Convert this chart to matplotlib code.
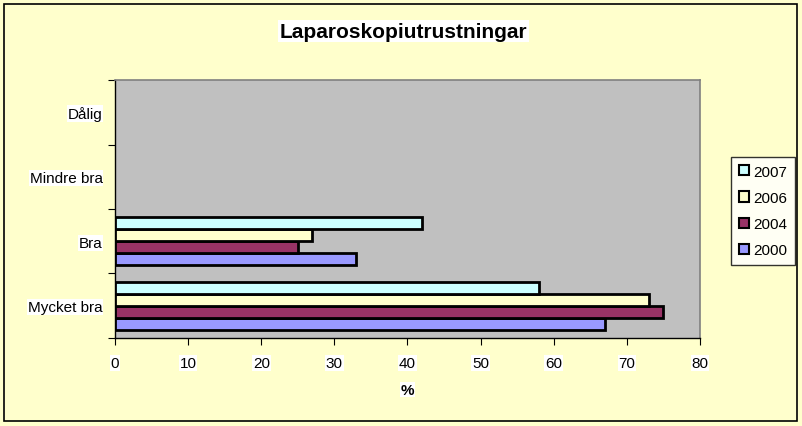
import numpy as np
import matplotlib.pyplot as plt
from matplotlib.patches import Patch, Rectangle

# data
categories = ["Mycket bra", "Bra", "Mindre bra", "Dålig"]
years = ["2000", "2004", "2006", "2007"]
v2000 = [67, 33, 0, 0]
v2004 = [75, 25, 0, 0]
v2006 = [73, 27, 0, 0]
v2007 = [58, 42, 0, 0]
colors = ["#9999FF", "#993366", "#FFFFCC", "#CCFFFF"]

plt.rcParams["font.family"] = ["Liberation Sans", "DejaVu Sans"]

fig = plt.figure(figsize=(8.02, 4.27), dpi=100, facecolor="#FFFFCC")
ax = fig.add_axes([0.1434, 0.2061, 0.7294, 0.6042])
ax.set_facecolor("#C0C0C0")

y = np.arange(len(categories))
h = 0.185
series = [v2000, v2004, v2006, v2007]
for i, (vals, col) in enumerate(zip(series, colors)):
    vals = np.array(vals)
    lw = np.where(vals > 0, 2.0, 0.0)  # Excel shows nothing for zero bars
    ax.barh(y + (i - 1.5) * h, vals, height=h, color=col,
            edgecolor="black", linewidth=lw, zorder=3)

ax.set_xlim(0, 80)
ax.set_ylim(-0.5, 3.5)
ax.set_xticks(np.arange(0, 81, 10))
ax.set_yticks(np.arange(-0.5, 3.6, 1))
ax.set_yticklabels([])
ax.set_yticks(y, minor=True)
ax.set_yticklabels(categories, minor=True)
ax.tick_params(axis="y", which="minor", length=0, pad=9, labelsize=11)
ax.tick_params(axis="y", which="major", length=5, direction="out", color="black")
ax.tick_params(axis="x", length=5, direction="out", labelsize=11, pad=8)

# Excel draws label text on white boxes
for lab in ax.get_xticklabels() + ax.get_yticklabels(minor=True):
    lab.set_bbox(dict(facecolor="white", edgecolor="none", pad=0.5))

for s in ["top", "right"]:
    ax.spines[s].set_color("#808080")
    ax.spines[s].set_linewidth(1.2)
for s in ["left", "bottom"]:
    ax.spines[s].set_color("black")
    ax.spines[s].set_linewidth(1.0)

ax.set_xlabel("%", fontsize=11, fontweight="bold", labelpad=9,
              bbox=dict(facecolor="white", edgecolor="none", pad=0.5))
fig.text(0.503, 0.925, "Laparoskopiutrustningar", ha="center", va="center",
         fontsize=15, fontweight="bold",
         bbox=dict(facecolor="white", edgecolor="none", pad=1))

handles = [Patch(facecolor=c, edgecolor="black", linewidth=1.5, label=yr)
           for c, yr in zip(colors, years)]
leg = fig.legend(handles[::-1], years[::-1], loc="upper left",
                 bbox_to_anchor=(731 / 802, 1 - 158 / 427), fontsize=11,
                 frameon=True, fancybox=False, handlelength=0.65,
                 handleheight=0.65, handletextpad=0.3, borderpad=0.5,
                 labelspacing=0.8, borderaxespad=0)
leg.get_frame().set_edgecolor("black")
leg.get_frame().set_facecolor("white")
leg.get_frame().set_linewidth(1.0)

fig.add_artist(Rectangle((4 / 802, 5 / 427), 793 / 802, 417 / 427,
                         transform=fig.transFigure, fill=False,
                         edgecolor="black", linewidth=1.2))

fig.savefig("out.png", dpi=100, facecolor=fig.get_facecolor())
